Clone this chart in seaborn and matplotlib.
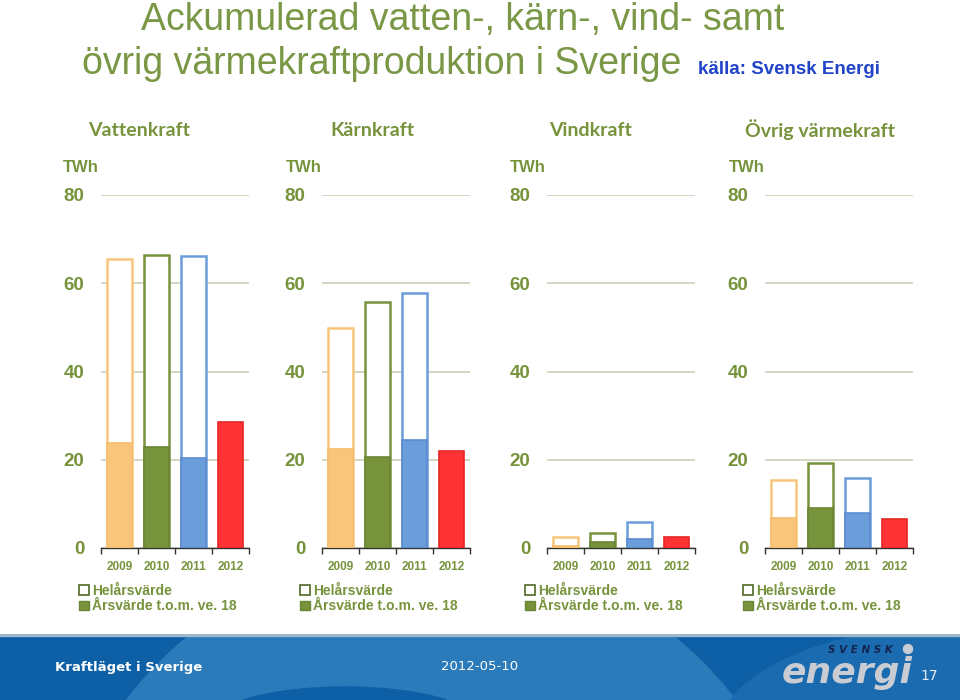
import matplotlib
matplotlib.use('Agg')
import matplotlib.pyplot as plt
import seaborn as sns
import pandas as pd
from matplotlib.patches import Patch, Rectangle, Circle, Ellipse

# data (TWh)
years = ['2009', '2010', '2011', '2012']
panels = ['Vattenkraft', 'Kärnkraft', 'Vindkraft', 'Övrig värmekraft']

vatten_helar = [65.4, 66.3, 66.2]
vatten_ytd = [23.8, 22.9, 20.3, 28.5]
karn_helar = [49.9, 55.8, 57.9]
karn_ytd = [22.4, 20.6, 24.4, 21.9]
vind_helar = [2.6, 3.4, 6.0]
vind_ytd = [0.5, 1.3, 2.1, 2.6]
ovrig_helar = [15.5, 19.3, 15.9]
ovrig_ytd = [6.7, 9.0, 8.0, 6.6]

helar = [vatten_helar, karn_helar, vind_helar, ovrig_helar]
ytd = [vatten_ytd, karn_ytd, vind_ytd, ovrig_ytd]

legend_labels = ['Helårsvärde', 'Årsvärde t.o.m. ve. 18']

colors = ['#F9C57A', '#77933C', '#6C9DDB', '#FF3333']
edges = ['#F3BE6E', '#6A8634', '#5A8CD2', '#E62525']
green = '#77933C'

sns.set_theme(style='white')
plt.rcParams['font.family'] = ['Liberation Sans', 'DejaVu Sans']

fig = plt.figure(figsize=(9.6, 7), dpi=100)
W, H = 960, 700

ax_lefts = [101, 322, 547, 765]
header_x = [139, 372, 591, 820]
twh_x = [63, 286, 510, 729]
legend_x = [79, 300, 525, 743]

for i in range(4):
    ax = fig.add_axes([ax_lefts[i] / W, 152 / H, 148 / W, 353 / H])
    full_df = pd.DataFrame({'year': years[:len(helar[i])], 'value': helar[i]})
    ytd_df = pd.DataFrame({'year': years, 'value': ytd[i]})

    sns.barplot(data=full_df, x='year', y='value', order=years, hue='year',
                hue_order=years, palette=colors, saturation=1, width=0.7,
                legend=False, ax=ax, zorder=2)
    for p in ax.patches:
        fc = p.get_facecolor()
        p.set_facecolor('white')
        p.set_edgecolor(fc)
        p.set_linewidth(1.8)
    n_full = len(ax.patches)

    sns.barplot(data=ytd_df, x='year', y='value', order=years, hue='year',
                hue_order=years, palette=colors, saturation=1, width=0.7,
                legend=False, ax=ax, zorder=3)
    for j, p in enumerate(ax.patches[n_full:]):
        p.set_edgecolor(edges[j])
        p.set_linewidth(1.2)

    ax.set_ylim(0, 80)
    ax.set_xlim(-0.5, 3.5)
    ax.set_yticks([0, 20, 40, 60, 80])
    ax.set_xlabel('')
    ax.set_ylabel('')
    ax.yaxis.grid(True, color='#C8CBB2', linewidth=1.1)
    ax.set_axisbelow(True)
    for s in ['top', 'right', 'left']:
        ax.spines[s].set_visible(False)
    ax.spines['bottom'].set_color('#333333')
    ax.spines['bottom'].set_linewidth(1.0)
    ax.set_xticks([-0.5, 0.5, 1.5, 2.5, 3.5], minor=True)
    ax.tick_params(axis='x', which='minor', bottom=True, length=4, width=1,
                   color='#333333', direction='out')
    ax.tick_params(axis='x', which='major', length=0, pad=9, labelsize=8.5,
                   labelcolor=green)
    ax.tick_params(axis='y', length=0, pad=12, labelsize=13.5, labelcolor=green)
    for t in ax.get_xticklabels() + ax.get_yticklabels():
        t.set_fontweight('bold')

    # panel header and unit
    fig.text(header_x[i] / W, 1 - 130 / H, panels[i], ha='center', va='center',
             fontsize=14, color=green, family=['Lato', 'DejaVu Sans'],
             fontweight='bold')
    fig.text(twh_x[i] / W, 1 - 167 / H, 'TWh', ha='left', va='center',
             fontsize=12, color=green, fontweight='bold')

    handles = [Patch(facecolor='white', edgecolor='#4F6A24', linewidth=1.2),
               Patch(facecolor=green, edgecolor='#6A8634', linewidth=1.0)]
    ax.legend(handles, legend_labels, loc='upper left',
              bbox_to_anchor=(legend_x[i] / W, 1 - 584 / H),
              bbox_transform=fig.transFigure, frameon=False,
              handlelength=0.7, handleheight=0.7, handletextpad=0.25,
              labelspacing=0.1, borderpad=0, borderaxespad=0,
              prop={'size': 10, 'weight': 'bold'}, labelcolor=green)

# title
fig.text(463 / W, 1 - 30 / H, 'Ackumulerad vatten-, kärn-, vind- samt',
         ha='center', va='baseline', fontsize=27, color='#7A9746')
fig.text(382 / W, 1 - 74 / H, 'övrig värmekraftproduktion i Sverige',
         ha='center', va='baseline', fontsize=27, color='#7A9746')
fig.text(698 / W, 1 - 74 / H, 'källa: Svensk Energi', ha='left',
         va='baseline', fontsize=13.5, color='#2244C8', fontweight='bold',
         family=['Liberation Sans Narrow', 'Liberation Sans'])

# footer band
axf = fig.add_axes([0, 0, 1, 66 / H])
axf.set_xlim(0, 960)
axf.set_ylim(0, 66)
axf.axis('off')
axf.add_patch(Rectangle((0, 0), 960, 66, color='#0D5FA6', zorder=0))
axf.add_patch(Circle((431, -234), 384, color='#2B7AB9', zorder=1))
axf.add_patch(Ellipse((345, -22), 260, 70, color='#0D5FA6', zorder=2))
axf.add_patch(Ellipse((1000, -30), 560, 220, color='#1A6BB0', zorder=1))
axf.add_patch(Rectangle((0, 64), 960, 2, color='#9EB7CC', zorder=3))

axf.text(55, 33, 'Kraftläget i Sverige', ha='left', va='center', fontsize=9.5,
         color='white', fontweight='bold', family='DejaVu Sans', zorder=5)
axf.text(441, 33, '2012-05-10', ha='left', va='center', fontsize=9.5,
         color='white', family='DejaVu Sans', zorder=5)
axf.text(860, 50, 'S V E N S K', ha='center', va='center', fontsize=7.5,
         color='#14244E', fontweight='bold', style='italic',
         family='DejaVu Sans', zorder=5)
axf.add_patch(Circle((908, 51), 4.5, color='#C9CDD3', zorder=5))
axf.text(847, 17, 'energi', ha='center', va='baseline', fontsize=26,
         color='#C9CDD3', fontweight='bold', style='italic',
         family='DejaVu Sans', zorder=5)
axf.text(920, 24, '17', ha='left', va='center', fontsize=10,
         color='#E8ECF0', family='DejaVu Sans', zorder=5)

fig.savefig('out.png', dpi=100)
